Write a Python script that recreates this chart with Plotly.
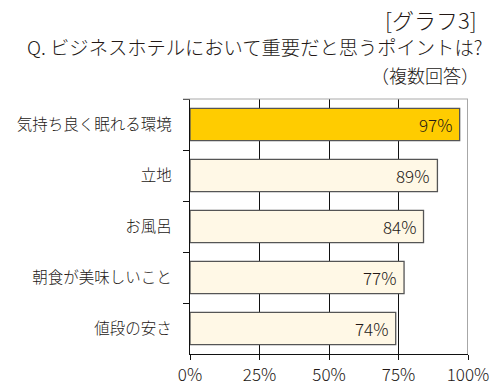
import plotly.graph_objects as go

categories = ["気持ち良く眠れる環境", "立地", "お風呂", "朝食が美味しいこと", "値段の安さ"]
values = [97, 89, 84, 77, 74]
value_labels = ["97%", "89%", "84%", "77%", "74%"]
tick_vals = [0, 25, 50, 75, 100]
tick_text = ["0%", "25%", "50%", "75%", "100%"]

colors = ["#FFCC00"] + ["#FFF8E6"] * 4
FONT = "Noto Sans CJK JP"
TXT = "#231815"
WT = 300

fig = go.Figure()
fig.add_trace(go.Bar(
    y=categories, x=values, orientation="h",
    marker=dict(color=colors, line=dict(color="#555555", width=1.3)),
    width=0.63,
    hoverinfo="skip",
))

W, H = 500, 391
L, R, T, B = 190, 32, 99, 37
fig.update_layout(
    width=W, height=H,
    margin=dict(l=L, r=R, t=T, b=B, pad=0, autoexpand=False),
    paper_bgcolor="white", plot_bgcolor="white",
    showlegend=False,
    font=dict(family=FONT, color=TXT, weight=WT),
    xaxis=dict(
        range=[0, 100], tickvals=tick_vals, ticktext=tick_text,
        showgrid=True, gridcolor="#111111", gridwidth=1,
        showline=True, linecolor="#111111", linewidth=1.2,
        ticks="outside", ticklen=5, tickcolor="#111111",
        tickfont=dict(family=FONT, size=17, color=TXT, weight=WT),
        zeroline=False, fixedrange=True, automargin=False,
    ),
    yaxis=dict(
        type="category", autorange="reversed",
        showline=True, linecolor="#111111", linewidth=1.2,
        ticks="outside", ticklen=6, tickcolor="#111111", tickson="boundaries",
        tickfont=dict(family=FONT, size=15.5, color=TXT, weight=WT),
        ticklabelstandoff=14, showgrid=False, fixedrange=True, automargin=False,
    ),
    shapes=[
        dict(type="line", xref="x", yref="paper", x0=100, x1=100, y0=0, y1=1,
             line=dict(color="#8a8a8a", width=1.5), layer="above"),
        dict(type="line", xref="paper", yref="paper", x0=-0.025, x1=1, y0=1, y1=1,
             line=dict(color="#aaaaaa", width=1.2), layer="above"),
    ],
)

for cat, v, lab in zip(categories, values, value_labels):
    fig.add_annotation(x=v, y=cat, xref="x", yref="y", text=lab, showarrow=False,
                       xanchor="right", yanchor="middle", xshift=-6,
                       font=dict(family=FONT, size=17, color=TXT, weight=WT))

fig.add_annotation(text="[グラフ3]", xref="paper", yref="paper", x=1.04, y=1.0 + 80/255,
                   xanchor="right", yanchor="middle", showarrow=False,
                   font=dict(family=FONT, size=22, color=TXT, weight=WT))
fig.add_annotation(text="Q. ビジネスホテルにおいて重要だと思うポイントは?", xref="paper", yref="paper",
                   x=1.058, y=1.0 + 52/255, xanchor="right", yanchor="middle", showarrow=False,
                   font=dict(family=FONT, size=19.3, color=TXT, weight=WT))
fig.add_annotation(text="（複数回答）", xref="paper", yref="paper",
                   x=1.045, y=1.0 + 24/255, xanchor="right", yanchor="middle", showarrow=False,
                   font=dict(family=FONT, size=18, color=TXT, weight=WT))

fig.write_html("out.html", config={"displayModeBar": False},
               post_script="document.body.style.margin='0';document.body.style.overflow='hidden';")
